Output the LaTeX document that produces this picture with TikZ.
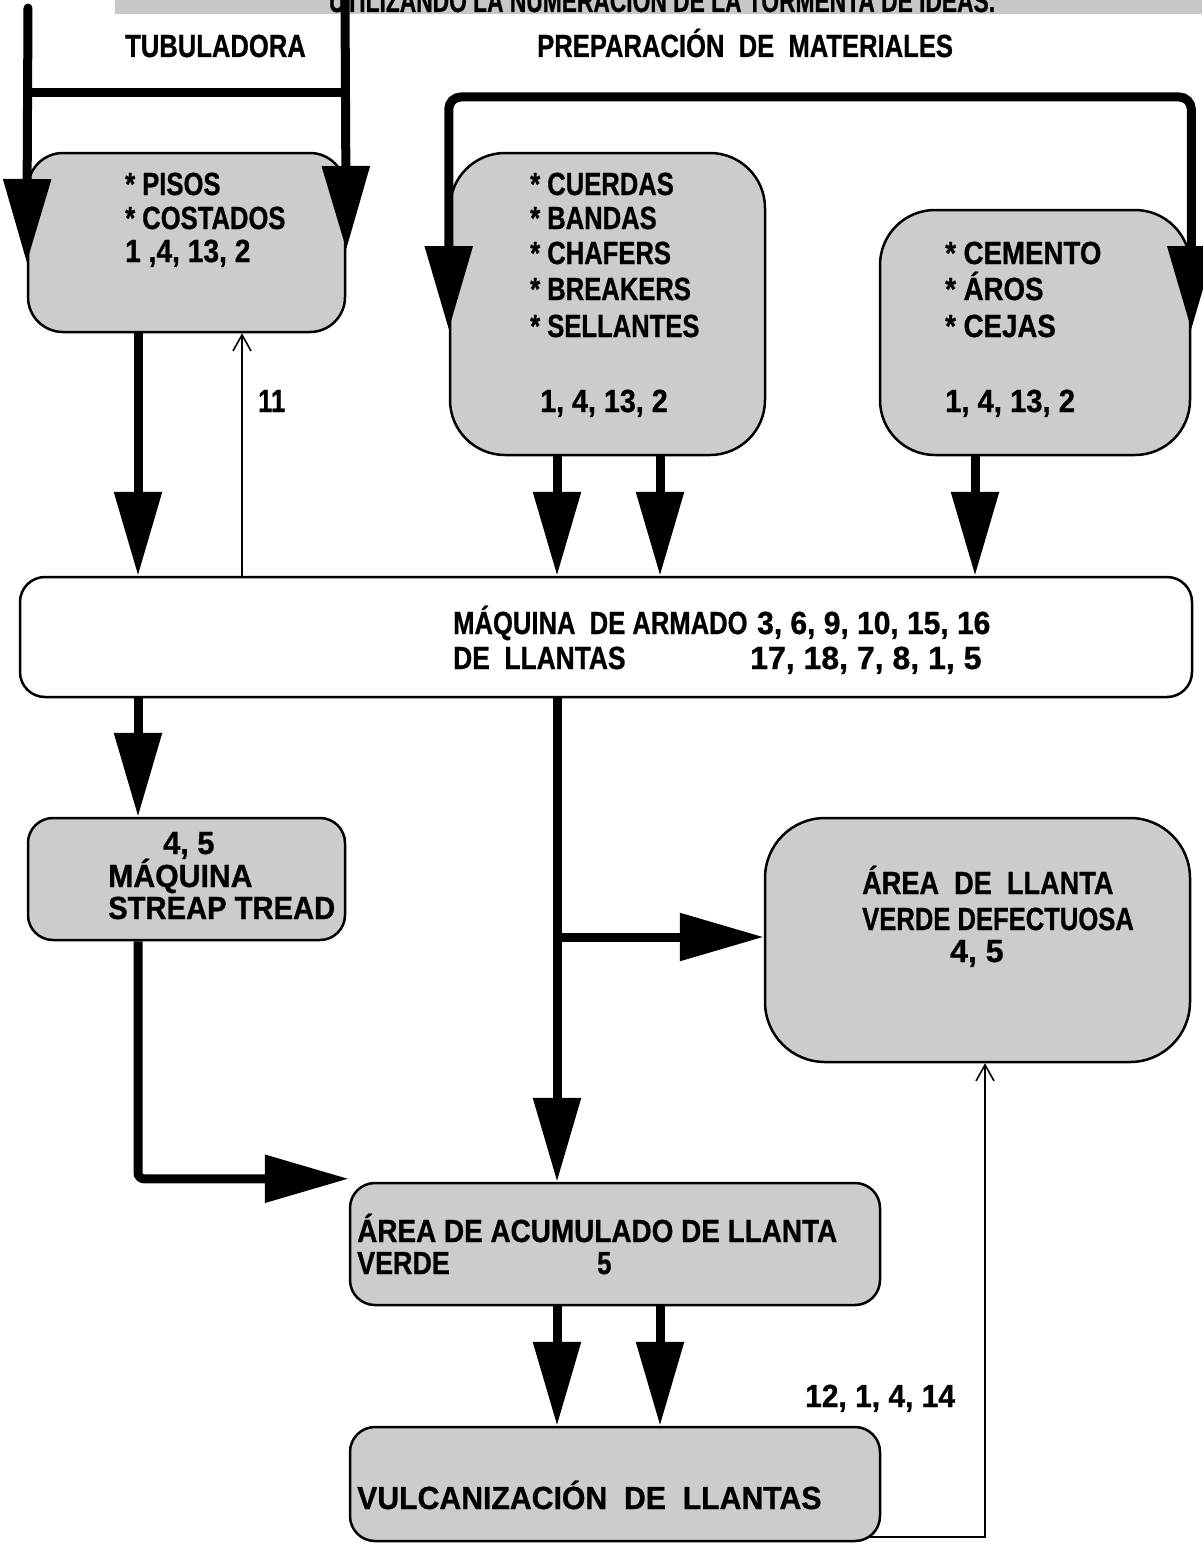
\documentclass[tikz,border=0pt]{standalone}
\usepackage{fontspec}
\setmainfont{Liberation Sans}[FakeStretch=0.8,FakeBold=0.8]
\usetikzlibrary{arrows.meta}
% horizontal stretch of one label, its height unchanged
\newcommand\stretchx[2]{\scalebox{#1}[1]{#2}}
\begin{document}
\begin{tikzpicture}[x=1pt,y=-1pt,
  lbl/.style={anchor=base west, inner sep=0pt, font=\bfseries\fontsize{32}{36}\selectfont},
  box/.style={draw=black, line width=2.5pt, fill=black!20, rounded corners=#1, inner sep=0pt},
  wbox/.style={draw=black, line width=2.5pt, fill=white, rounded corners=#1, inner sep=0pt},
  bigtip/.tip={Triangle[width=46pt,length=84pt]},
  heavy/.style={line width=9pt, -bigtip},
  bar/.style={line width=9pt},
  thinarrow/.style={line width=1.6pt, -{Straight Barb[width=18pt,length=16pt]}}]

\useasboundingbox (0,0) rectangle (1202,1544);

% heading band, cut by the page edge
\begin{scope}
  \clip (0,0) rectangle (1202,1544);
  \fill[black!22] (115,0) rectangle (1202,14);
  \node[lbl, anchor=base] (head) at (662,12)
    {\stretchx{0.89}{UTILIZANDO LA NUMERACIÓN DE LA TORMENTA DE IDEAS.}};
\end{scope}

% process boxes
\node[box=35pt, minimum width=317pt, minimum height=179pt] (pisos) at (186.5,242.5) {};
\node[box=55pt, minimum width=315pt, minimum height=302pt] (cuerdas) at (607.5,304) {};
\node[box=55pt, minimum width=310pt, minimum height=245pt] (cemento) at (1035,332.5) {};
\node[wbox=25pt, minimum width=1172pt, minimum height=120pt] (armado) at (606,637) {};
\node[box=25pt, minimum width=317pt, minimum height=122pt] (streap) at (186.5,879) {};
\node[box=60pt, minimum width=425pt, minimum height=244pt] (defect) at (977.5,940) {};
\node[box=25pt, minimum width=530pt, minimum height=122pt] (acum) at (615,1244) {};
\node[box=25pt, minimum width=530pt, minimum height=114pt] (vulc) at (615,1484) {};

% section titles
\node[lbl] (ttub) at (125,57) {TUBULADORA};
\node[lbl] (tprep) at (537,57) {PREPARACIÓN\ \ DE\ \ MATERIALES};

% box texts
\node[lbl] (p1) at (125,195) {* PISOS};
\node[lbl] (p2) at (125,229) {* COSTADOS};
\node[lbl] (p3) at (125,262) {\stretchx{1.1}{1 ,4, 13, 2}};

\node[lbl] (c1) at (530,195) {* CUERDAS};
\node[lbl] (c2) at (530,229) {* BANDAS};
\node[lbl] (c3) at (530,264) {* CHAFERS};
\node[lbl] (c4) at (530,300) {* BREAKERS};
\node[lbl] (c5) at (530,337) {* SELLANTES};
\node[lbl] (c6) at (540,412) {\stretchx{1.12}{1, 4, 13, 2}};

\node[lbl] (m1) at (945,264) {\stretchx{1.08}{* CEMENTO}};
\node[lbl] (m2) at (945,300) {\stretchx{1.08}{* ÁROS}};
\node[lbl] (m3) at (945,337) {\stretchx{1.08}{* CEJAS}};
\node[lbl] (m4) at (945,412) {\stretchx{1.14}{1, 4, 13, 2}};

\node[lbl] (l11) at (258,412) {11};

\node[lbl] (a1) at (453,634) {MÁQUINA\ \ DE ARMADO};
\node[lbl] (a2) at (757,634) {\stretchx{1.17}{3, 6, 9, 10, 15, 16}};
\node[lbl] (a3) at (453,669) {\stretchx{1.03}{DE\ \ LLANTAS}};
\node[lbl] (a4) at (750,669) {\stretchx{1.25}{17, 18, 7, 8, 1, 5}};

\node[lbl] (s1) at (163,854) {\stretchx{1.2}{4, 5}};
\node[lbl] (s2) at (108,887) {\stretchx{1.18}{MÁQUINA}};
\node[lbl] (s3) at (108,919) {\stretchx{1.14}{STREAP TREAD}};

\node[lbl] (d1) at (862,894) {\stretchx{1.06}{ÁREA\ \ DE\ \ LLANTA}};
\node[lbl] (d2) at (862,930) {VERDE DEFECTUOSA};
\node[lbl] (d3) at (950,962) {\stretchx{1.25}{4, 5}};

\node[lbl] (g1) at (357,1242) {\stretchx{1.09}{ÁREA DE ACUMULADO DE LLANTA}};
\node[lbl] (g2) at (357,1274) {\stretchx{1.05}{VERDE}};
\node[lbl] (g3) at (597,1274) {5};

\node[lbl] (v1) at (357,1509) {\stretchx{1.18}{VULCANIZACIÓN\ \ DE\ \ LLANTAS}};

\node[lbl] (l12) at (805,1407) {\stretchx{1.17}{12, 1, 4, 14}};

% x positions of the vertical flows
\coordinate (xA) at (138,0);
\coordinate (x11) at (242,0);
\coordinate (xM) at (557,0);
\coordinate (xN) at (660,0);
\coordinate (xC) at (975,0);
\coordinate (xF) at (985,0);
\coordinate (tubL) at (28,8);
\coordinate (tubR) at (345,0);

% tubuladora feed
\draw[bar] (28,93) -- (345,93);
\draw[heavy, line cap=round] (tubL) -- (pisos.west |- 0,263);
\draw[heavy] (tubR) -- (pisos.east |- 0,250);

% material preparation feed
\draw[bar, bigtip-bigtip, rounded corners=12pt]
  (cuerdas.west |- 0,330) -- (cuerdas.west |- 0,97) -- (cemento.east |- 0,97) -- (cemento.east |- 0,330);

% into the assembly machine
\draw[heavy] (xA |- pisos.south) -- (xA |- armado.north);
\draw[thinarrow] (x11 |- armado.north) -- (x11 |- pisos.south);
\draw[heavy] (xM |- cuerdas.south) -- (xM |- armado.north);
\draw[heavy] (xN |- cuerdas.south) -- (xN |- armado.north);
\draw[heavy] (xC |- cemento.south) -- (xC |- armado.north);

% out of the assembly machine
\draw[heavy] (xA |- armado.south) -- (xA |- streap.north);
\draw[heavy] (xM |- armado.south) -- (xM |- acum.north);
\draw[heavy] (xM |- 0,937) -- (defect.west |- 0,937);
\draw[heavy, rounded corners=6pt] (xA |- streap.south) |- ([yshift=3pt]acum.north west);

% to vulcanization
\draw[heavy] (xM |- acum.south) -- (xM |- vulc.north);
\draw[heavy] (xN |- acum.south) -- (xN |- vulc.north);

% defective tyres return
\draw[thinarrow] (870,1537) -| (xF |- defect.south);

\end{tikzpicture}
\end{document}
